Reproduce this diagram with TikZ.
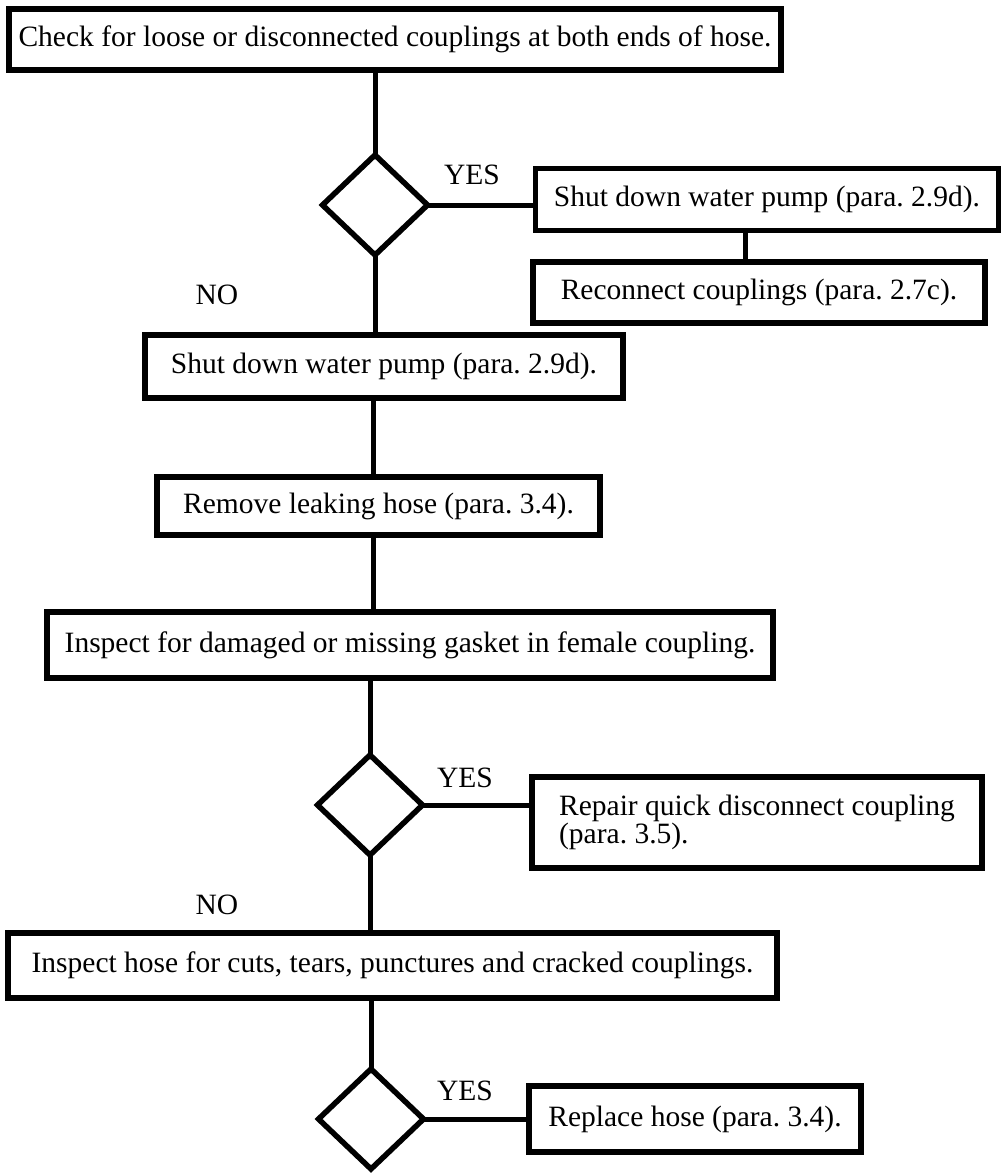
\documentclass[tikz,border=0pt]{standalone}
\usepackage{fontspec}
\setmainfont{Liberation Serif}
\usetikzlibrary{shapes.geometric}
\frenchspacing
\begin{document}
\begin{tikzpicture}[x=1pt,y=-1pt,
  every node/.style={outer sep=0pt},
  box/.style={draw,line width=5.5pt,line join=miter,fill=white,inner sep=0pt,font=\fontsize{29.5}{25}\selectfont},
  dia/.style={draw,diamond,line width=5.5pt,line join=miter,fill=white,minimum width=105pt,minimum height=100pt,inner sep=0pt},
  lbl/.style={inner sep=0pt,font=\fontsize{29.5}{30}\selectfont},
  conn/.style={line width=5pt}]
\useasboundingbox (0,0) rectangle (1002,1173);
\fill[white] (0,0) rectangle (1002,1173);

% column coordinate
\coordinate (ca) at (373,0);

% nodes
\node[box,minimum width=772pt,minimum height=61pt] (b1) at (395,39.5) {Check for loose or disconnected couplings at both ends of hose.};
\node[dia] (d1) at (375,205) {};
\node[lbl] (yes1) at (472,175) {YES};
\node[box,minimum width=463pt,minimum height=62pt] (b2) at (767,199.5) {Shut down water pump (para. 2.9d).};
\node[box,minimum width=452pt,minimum height=61pt] (b4) at (759,292.5) {Reconnect couplings (para. 2.7c).};
\node[lbl] (no1) at (217,295) {NO};
\node[box,minimum width=478pt,minimum height=63pt] (b3) at (384,366.5) {Shut down water pump (para. 2.9d).};
\node[box,minimum width=443pt,minimum height=58pt] (b5) at (378.5,506) {Remove leaking hose (para. 3.4).};
\node[box,minimum width=726pt,minimum height=66pt] (b6) at (410,645) {Inspect for damaged or missing gasket in female coupling.};
\node[dia] (d2) at (370,805) {};
\node[lbl] (yes2) at (465,778) {YES};
\node[box,minimum width=450pt,minimum height=91pt,align=left] (b7) at (757,822.5) {Repair quick disconnect coupling\\(para. 3.5).};
\node[lbl] (no2) at (217,905) {NO};
\node[box,minimum width=769pt,minimum height=65pt] (b8) at (392.5,965.5) {Inspect hose for cuts, tears, punctures and cracked couplings.};
\node[dia] (d3) at (371,1119) {};
\node[lbl] (yes3) at (465,1091) {YES};
\node[box,minimum width=332pt,minimum height=66pt] (b9) at (695,1119) {Replace hose (para. 3.4).};

% connectors
\draw[conn] (d1.north |- b1.south) -- (d1.north);
\draw[conn] (d1.east) -- (d1.east -| b2.west);
\draw[conn] ([xshift=-22pt]b2.south) -- ([xshift=-22pt]b2.south |- b4.north);
\draw[conn] (d1.south) -- (d1.south |- b3.north);
\draw[conn] (b3.south -| ca) -- (b5.north -| ca);
\draw[conn] (b5.south -| ca) -- (b6.north -| ca);
\draw[conn] (b6.south -| d2.north) -- (d2.north);
\draw[conn] (d2.east) -- (d2.east -| b7.west);
\draw[conn] (d2.south) -- (d2.south |- b8.north);
\draw[conn] (b8.south -| d3.north) -- (d3.north);
\draw[conn] (d3.east) -- (d3.east -| b9.west);
\end{tikzpicture}
\end{document}
